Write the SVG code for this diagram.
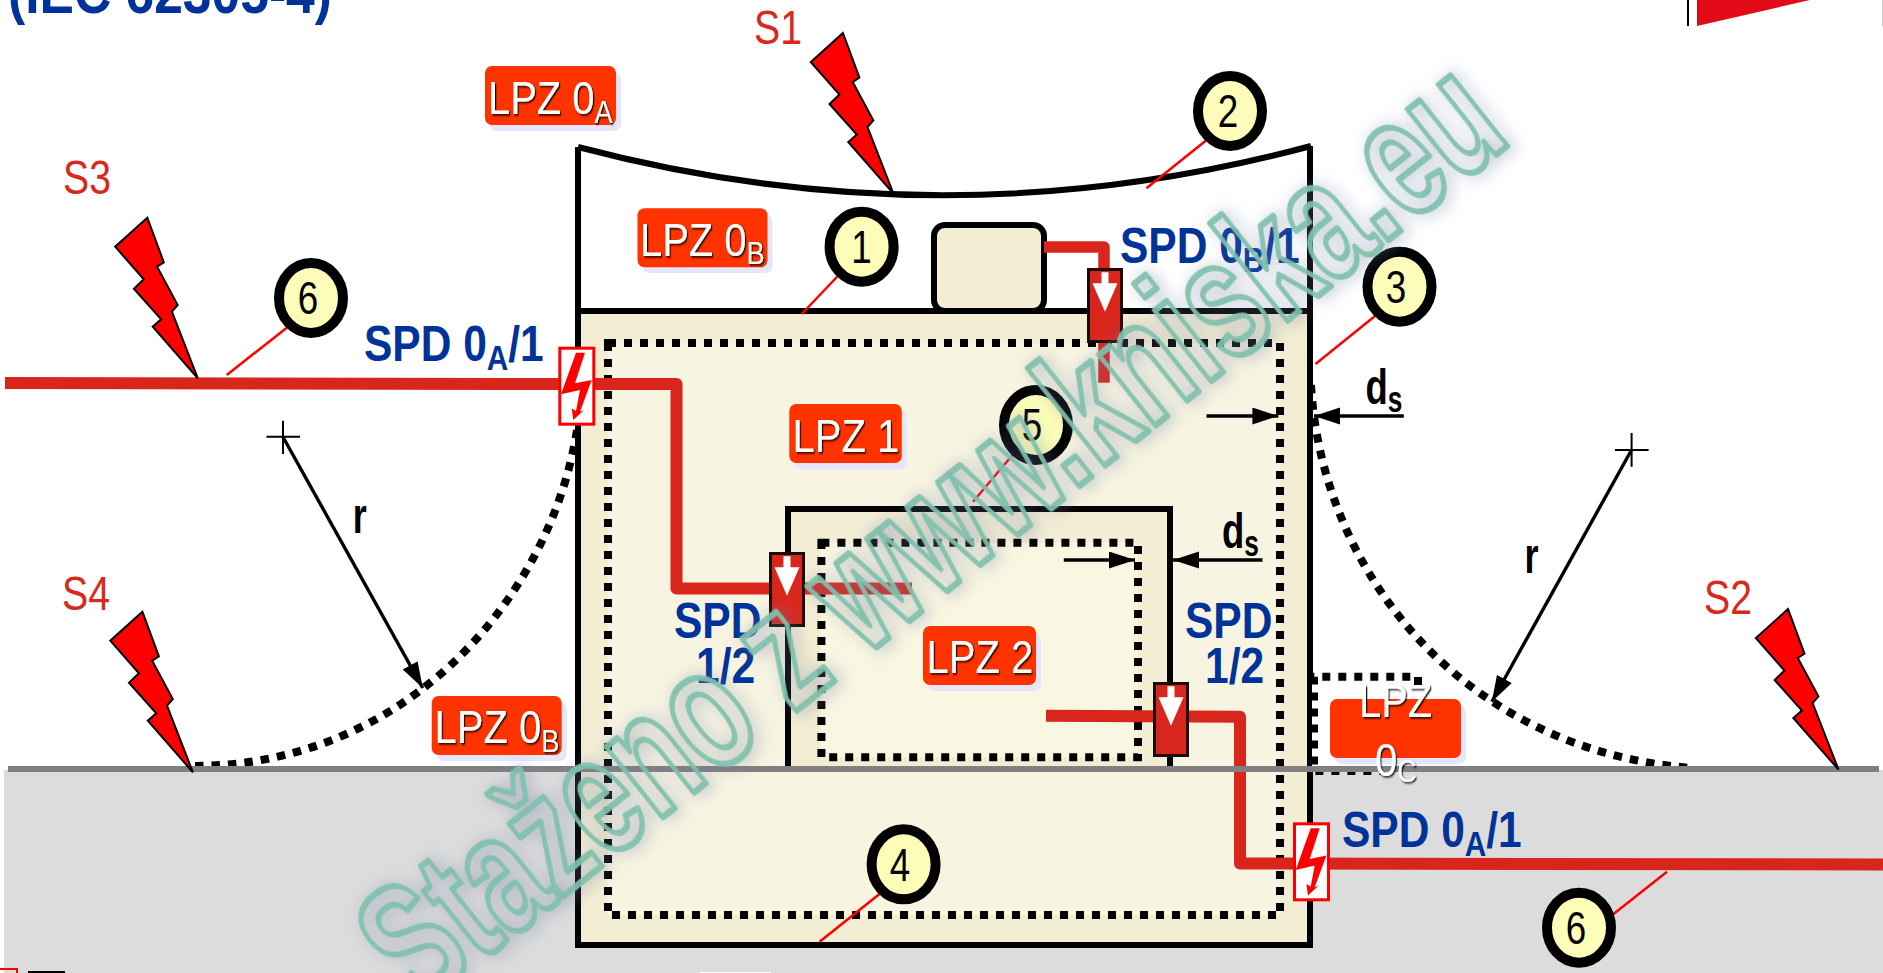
<svg xmlns="http://www.w3.org/2000/svg" width="1883" height="973" viewBox="0 0 1883 973">
<style>
text{font-family:"Liberation Sans",Arial,sans-serif}
.wall{fill:none;stroke:#000;stroke-width:6}
.dots{fill:none;stroke:#000;stroke-width:8;stroke-dasharray:8 8}
.arc{fill:none;stroke:#000;stroke-width:8;stroke-dasharray:8.5 8}
.wire{fill:none;stroke:#d9261c;stroke-width:12;stroke-linejoin:round}
.lead{stroke:#f00;stroke-width:2.5;fill:none}
.arw{stroke:#000;stroke-width:3.4;fill:none;marker-end:url(#ah)}
.cross{stroke:#000;stroke-width:2;fill:none}
.tag{fill:#ff3300}
.tagsh{fill:#e6e6fa}
.lpz{fill:#fff;font-size:47px;filter:url(#ts)}
.num{fill:#000;font-size:46px;text-anchor:middle}
.ring{fill:#fdfdb9;stroke:#000;stroke-width:10}
.spd{fill:#003399;font-size:50px;font-weight:bold}
.s{fill:#d9291c;font-size:49px}
.blk{fill:#000;font-size:50px;font-weight:bold}
.wm{fill:none;stroke:#80c0ad;stroke-width:6.5;stroke-opacity:.92;font-size:170px;font-weight:bold;filter:url(#ws);stroke-linejoin:round}
</style>
<defs>
<filter id="ts" x="-10%" y="-10%" width="125%" height="130%"><feDropShadow dx="1.5" dy="1.5" stdDeviation="0.8" flood-color="#000" flood-opacity="0.9"/></filter>
<filter id="ws" x="-5%" y="-20%" width="110%" height="140%"><feDropShadow dx="3" dy="3" stdDeviation="8" flood-color="#6f80a8" flood-opacity="0.65"/></filter>
<marker id="ah" markerUnits="userSpaceOnUse" markerWidth="27" markerHeight="18" refX="26" refY="8.5" orient="auto"><path d="M0,0 L26,8.5 L0,17 Z" fill="#000"/></marker>
<polygon id="bolt" points="0,0 -32.1,29 -3.5,61.6 -13.4,71 13.9,101.6 5.4,109 50.5,160.6 24.6,94 30.4,87.3 9.8,49 16.5,44.6" fill="#f00" stroke="#000" stroke-width="2"/>
<g id="spdg">
<rect x="1.5" y="1.5" width="33" height="72" fill="#d9261c" stroke="#1a0a08" stroke-width="3"/>
<polygon points="14.5,4.3 21.5,4.3 21.5,15.3 30.5,15.3 18,43.7 5.5,15.3 14.5,15.3" fill="#fff"/>
</g>
<g id="spdl">
<rect x="1.5" y="1.5" width="34" height="76" fill="#fff" stroke="#f00" stroke-width="3"/>
<polygon points="17.7,6 26.7,6 16.7,36.6 33.4,33.3 21.7,65 25.7,63.3 15,73.3 13.4,61.6 17.7,64.3 21.7,43.3 2.7,47.6" fill="#f00"/>
</g>
</defs>
<rect width="1883" height="973" fill="#fff"/>
<g id="ground">
<rect x="4" y="770" width="1879" height="203" fill="#dcdcdc"/>
</g>
<g id="building">
<rect x="578" y="311" width="732" height="634" fill="#f3edd3"/>
<rect x="608" y="343" width="672" height="572" fill="#f7f4e1"/>
<path d="M578,147 Q945,244 1311,146 L1310,311 L578,311 Z" fill="#fff"/>
<path d="M581,311 H1310" class="wall"/>
<path d="M578,147 V945 H1310 V146" class="wall"/>
<path d="M578,147 Q945,244 1311,146" class="wall"/>
<path d="M608,343 H1280 V915 H608 Z" class="dots"/>
</g>
<g id="inner-zone">
<rect x="788" y="509" width="382" height="260" fill="#f3edd3"/>
<rect x="821" y="543" width="317" height="214" fill="#f9f6e1"/>
<path d="M788,769 V509 H1170 V769" class="wall"/>
<path d="M821.4,542.7 H1138 V757.3 H821.4 Z" class="dots"/>
</g>
<g id="device"><rect x="934" y="225" width="110" height="86" rx="11" fill="#f3edd3" stroke="#000" stroke-width="6"/></g>
<g id="zone-0c">
<rect x="1312" y="676" width="108" height="95" fill="#fff"/>
<path d="M1418,685 V676.7 H1314 V771 H1385" class="dots"/>
</g>
<g id="connectors">
<path d="M195,766 C405,765 550,600 577,430" class="arc"/>
<path d="M1311,385 C1322,575 1465,750 1691,768" class="arc"/>
<path d="M5,383 L555,384 H676.5 V588.5 H912" class="wire"/>
<path d="M1044,247 H1104 V382.7" class="wire" style="stroke-width:11.5"/>
<path d="M1046,715.7 L1240,716.7 V863.5 L1883,864.5" class="wire"/>
<path d="M283,437 L422.8,688" class="arw"/>
<path d="M1631.5,450 L1491.8,701.7" class="arw"/>
<path d="M266.5,436.7 H300 M283,420.7 V454" class="cross"/>
<path d="M1615,450 H1648.6 M1631.6,433 V466.7" class="cross"/>
<path d="M1206.5,416 H1278.4" class="arw"/>
<path d="M1403.8,416 H1314" class="arw"/>
<path d="M1063.8,560 H1135" class="arw"/>
<path d="M1262.5,560 H1173" class="arw"/>
<path d="M839.7,274 L801.8,314" class="lead"/>
<path d="M1207.6,139.3 L1146.4,188.3" class="lead"/>
<path d="M1377.5,314 L1315.5,364" class="lead"/>
<path d="M881.7,892.3 L819.6,941.7" class="lead"/>
<path d="M1012.5,455 L973,501.7" class="lead"/>
<path d="M289.3,325.7 L226.8,375" class="lead"/>
<path d="M1605,920.7 L1667,871.7" class="lead"/>
<path d="M8,769 H1879" stroke="#808080" stroke-width="6" fill="none"/>
</g>
<g id="spd-a"><use href="#spdg" x="1087" y="268"/></g>
<g id="spd-b"><use href="#spdg" x="769" y="552"/></g>
<g id="spd-c"><use href="#spdg" x="1153" y="682"/></g>
<g id="spd-l1"><use href="#spdl" x="558.3" y="346.7"/></g>
<g id="spd-l2"><use href="#spdl" x="1293" y="822.3"/></g>
<g id="strikes">
<use href="#bolt" x="147.3" y="217.7"/>
<use href="#bolt" x="842.9" y="33"/>
<use href="#bolt" x="142.4" y="611.7"/>
<use href="#bolt" x="1788" y="609"/>
<text class="s" transform="translate(63,194) scale(.8,1)">S3</text>
<text class="s" transform="translate(754,44) scale(.8,1)">S1</text>
<text class="s" transform="translate(62,610) scale(.8,1)">S4</text>
<text class="s" transform="translate(1704,614) scale(.8,1)">S2</text>
</g>
<g id="tag-0a"><rect class="tagsh" x="490" y="72" width="131" height="59" rx="7"/><rect class="tag" x="485" y="66" width="131" height="59" rx="7"/>
<text class="lpz" transform="translate(488,114) scale(.85,1)">LPZ 0<tspan font-size="32" dy="8.7">A</tspan></text></g>
<g id="tag-0b-up"><rect class="tagsh" x="642.5" y="214" width="130" height="59" rx="7"/><rect class="tag" x="637.5" y="208.3" width="130" height="59" rx="7"/>
<text class="lpz" transform="translate(640,255.7) scale(.85,1)">LPZ 0<tspan font-size="32" dy="8.7">B</tspan></text></g>
<g id="tag-1"><rect class="tagsh" x="794.3" y="410" width="112.5" height="59" rx="7"/><rect class="tag" x="789.3" y="404" width="112.5" height="59" rx="7"/>
<text class="lpz" transform="translate(792.6,451.7) scale(.85,1)">LPZ 1</text></g>
<g id="tag-2"><rect class="tagsh" x="928" y="632" width="113" height="59" rx="7"/><rect class="tag" x="923" y="626" width="113" height="59" rx="7"/>
<text class="lpz" transform="translate(926.6,673.3) scale(.85,1)">LPZ 2</text></g>
<g id="tag-0b-low"><rect class="tagsh" x="436.7" y="702" width="130" height="59" rx="7"/><rect class="tag" x="431.7" y="696" width="130" height="59" rx="7"/>
<text class="lpz" transform="translate(434.6,743.3) scale(.85,1)">LPZ 0<tspan font-size="32" dy="8.7">B</tspan></text></g>
<g id="tag-0c"><rect class="tagsh" x="1335" y="705" width="131" height="59" rx="7"/><rect class="tag" x="1330" y="699" width="131" height="59" rx="7"/>
<text class="lpz" transform="translate(1359,717.3) scale(.85,1)">LPZ</text>
<text class="lpz" transform="translate(1375,776) scale(.85,1)">0<tspan font-size="32" dy="6">C</tspan></text></g>
<g id="n1"><ellipse class="ring" cx="861.6" cy="246.7" rx="32" ry="35"/><text class="num" transform="translate(861.6,263) scale(.8,1)">1</text></g>
<g id="n2"><ellipse class="ring" cx="1230" cy="111" rx="32" ry="35"/><text class="num" transform="translate(1228,127) scale(.8,1)">2</text></g>
<g id="n3"><ellipse class="ring" cx="1399.5" cy="286.7" rx="32" ry="35"/><text class="num" transform="translate(1396,303) scale(.8,1)">3</text></g>
<g id="n4"><ellipse class="ring" cx="903.6" cy="864.3" rx="32" ry="35"/><text class="num" transform="translate(900,881) scale(.8,1)">4</text></g>
<g id="n5"><ellipse class="ring" cx="1036" cy="425" rx="32" ry="35"/><text class="num" transform="translate(1032,441) scale(.8,1)">5</text></g>
<g id="n6a"><ellipse class="ring" cx="311" cy="298" rx="32" ry="35"/><text class="num" transform="translate(308,314) scale(.8,1)">6</text></g>
<g id="n6b"><ellipse class="ring" cx="1579" cy="927.7" rx="32" ry="35"/><text class="num" transform="translate(1576,944) scale(.8,1)">6</text></g>
<g id="labels">
<text class="spd" transform="translate(364,361) scale(.85,1)">SPD 0<tspan font-size="35" dy="9">A</tspan><tspan dy="-9">/1</tspan></text>
<text class="spd" transform="translate(1120,262.7) scale(.85,1)">SPD 0<tspan font-size="35" dy="9">B</tspan><tspan dy="-9">/1</tspan></text>
<text class="spd" transform="translate(1342,846.7) scale(.85,1)">SPD 0<tspan font-size="35" dy="9">A</tspan><tspan dy="-9">/1</tspan></text>
<text class="spd" transform="translate(674,638) scale(.85,1)">SPD</text>
<text class="spd" transform="translate(696,682.7) scale(.85,1)">1/2</text>
<text class="spd" transform="translate(1185,638) scale(.85,1)">SPD</text>
<text class="spd" transform="translate(1205,682.7) scale(.85,1)">1/2</text>
<text class="blk" transform="translate(352.7,533) scale(.72,1)">r</text>
<text class="blk" transform="translate(1524.5,572.7) scale(.72,1)">r</text>
<text class="blk" transform="translate(1365.5,404) scale(.73,1)">d<tspan font-size="36" dy="7.5">s</tspan></text>
<text class="blk" transform="translate(1222,548.3) scale(.73,1)">d<tspan font-size="36" dy="7.5">s</tspan></text>
<text transform="translate(8,12.7) scale(.86,1)" font-size="60" font-weight="bold" fill="#003399">(IEC 62305-4)</text>
</g>
<g id="page-edge">
<rect x="1687" y="0" width="2" height="26" fill="#000"/>
<polygon points="1697,0 1810,0 1697,26" fill="#e30a17"/>
<rect x="1882" y="0" width="1" height="26" fill="#ccc"/>
<path d="M0,969 H17 V973" fill="none" stroke="#f00" stroke-width="2"/>
<rect x="28" y="971" width="37" height="2" fill="#000"/>
<rect x="700" y="972" width="71" height="1" fill="#fff"/>
</g>
<g id="watermark"><text class="wm" transform="translate(418,1012) rotate(-38.5)" textLength="1400" lengthAdjust="spacingAndGlyphs">Staženo z www.kniska.eu</text></g>
</svg>
